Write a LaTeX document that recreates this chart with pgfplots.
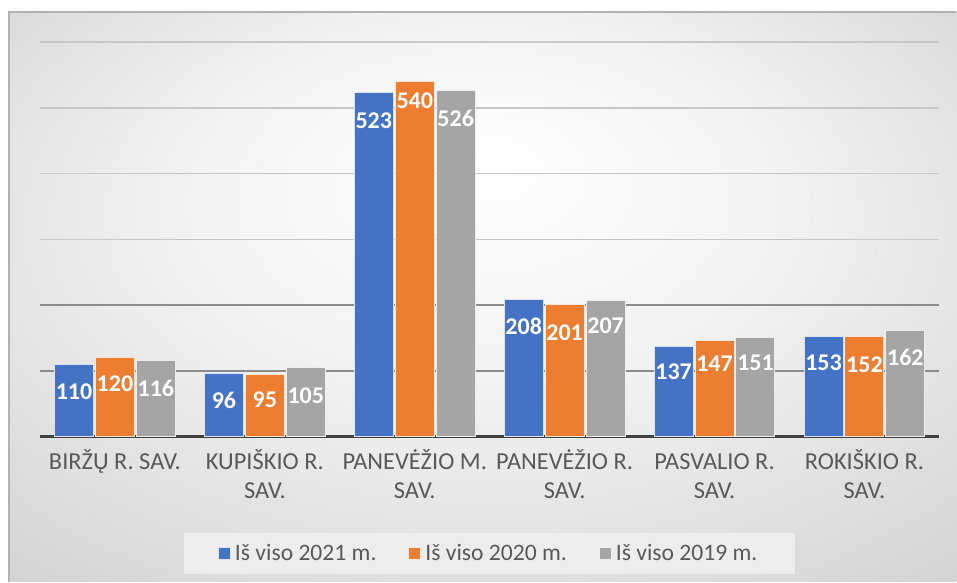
\documentclass[border=0pt]{standalone}
\usepackage{pgfplots}
\usepackage{pgfplotstable}
\pgfplotsset{compat=1.18}
\usepackage{fontspec}
\setmainfont{Carlito}
\definecolor{cblue}{HTML}{4472C4}
\definecolor{corange}{HTML}{ED7D31}
\definecolor{cgray}{HTML}{A5A5A5}
\definecolor{textgray}{HTML}{595959}
\pgfdeclareradialshading{bgshade}{\pgfpoint{0bp}{12bp}}{color(0bp)=(white); color(16bp)=(white!95!black); color(36bp)=(white!84!black); color(50bp)=(white!74!black)}

\pgfplotstableread{
x y off
0 110 -13.5
1 96 -13.5
2 523 -14
3 208 -13
4 137 -12.5
5 153 -13.5
}\tabA
\pgfplotstableread{
x y off
0 120 -13
1 95 -13
2 540 -9.5
3 201 -14
4 147 -12
5 152 -14
}\tabB
\pgfplotstableread{
x y off
0 116 -14
1 105 -14
2 526 -14
3 207 -12.5
4 151 -12.5
5 162 -13.5
}\tabC

\begin{document}
\begin{tikzpicture}
\fill[white] (0,0) rectangle (478.5pt,291pt);
\shade[shading=bgshade] (4.5pt,0pt) rectangle (478.5pt,285pt);
\draw[black!30, line width=0.6pt] (4.5pt,0pt) -- (4.5pt,285pt) -- (478.5pt,285pt);
\begin{axis}[
  at={(20pt,72.5pt)}, anchor=south west,
  scale only axis, width=450pt, height=197.5pt,
  xmin=-0.5, xmax=5.5, ymin=0, ymax=600,
  axis x line*=bottom, axis y line*=left,
  x axis line style={draw=black!75, line width=1.25pt},
  y axis line style={draw=none},
  xtick={0,...,5},
  xticklabels={{\strut BIRŽŲ R. SAV.}, {\strut KUPIŠKIO R.\\SAV.}, {\strut PANEVĖŽIO M.\\SAV.}, {\strut PANEVĖŽIO R.\\SAV.}, {\strut PASVALIO R.\\SAV.}, {\strut ROKIŠKIO R.\\SAV.}},
  xticklabel style={font=\fontsize{12.2}{14.8}\selectfont, text=textgray, align=center, yshift=-2.4pt},
  ytick={300,400,500,600}, yticklabels={},
  extra y ticks={100,200}, extra y tick labels={},
  extra y tick style={grid=major, major grid style={black!45, line width=0.75pt}},
  ymajorgrids, major grid style={black!22, line width=0.75pt},
  major tick length=0pt,
  /pgf/number format/assume math mode=true,
  ybar, bar width=0.26,
  nodes near coords,
  nodes near coords style={font=\bfseries\fontsize{12}{12}\selectfont, text=white, anchor=center},
  legend image code/.code={\fill[#1] (0pt,-3pt) rectangle (6pt,3pt);},
  legend style={at={(0.5,-0.296)}, anchor=center, legend columns=3, fill=black!7, draw=none,
    font=\fontsize{11.8}{14}\selectfont, text=textgray, inner xsep=17pt, inner ysep=3.5pt,
    /tikz/every even column/.append style={column sep=14pt}},
]
\addplot[fill=cblue, draw=white!80!cblue, line width=0.5pt, bar shift=-0.273,
  visualization depends on={\thisrow{off} \as \off},
  every node near coord/.append style={yshift=\off pt}] table[x=x,y=y]{\tabA};
\addplot[fill=corange, draw=white!80!corange, line width=0.5pt, bar shift=0,
  visualization depends on={\thisrow{off} \as \off},
  every node near coord/.append style={yshift=\off pt}] table[x=x,y=y]{\tabB};
\addplot[fill=cgray, draw=white!80!cgray, line width=0.5pt, bar shift=0.273,
  visualization depends on={\thisrow{off} \as \off},
  every node near coord/.append style={yshift=\off pt}] table[x=x,y=y]{\tabC};
\legend{Iš viso 2021 m., Iš viso 2020 m., Iš viso 2019 m.}
\end{axis}
\end{tikzpicture}
\end{document}
